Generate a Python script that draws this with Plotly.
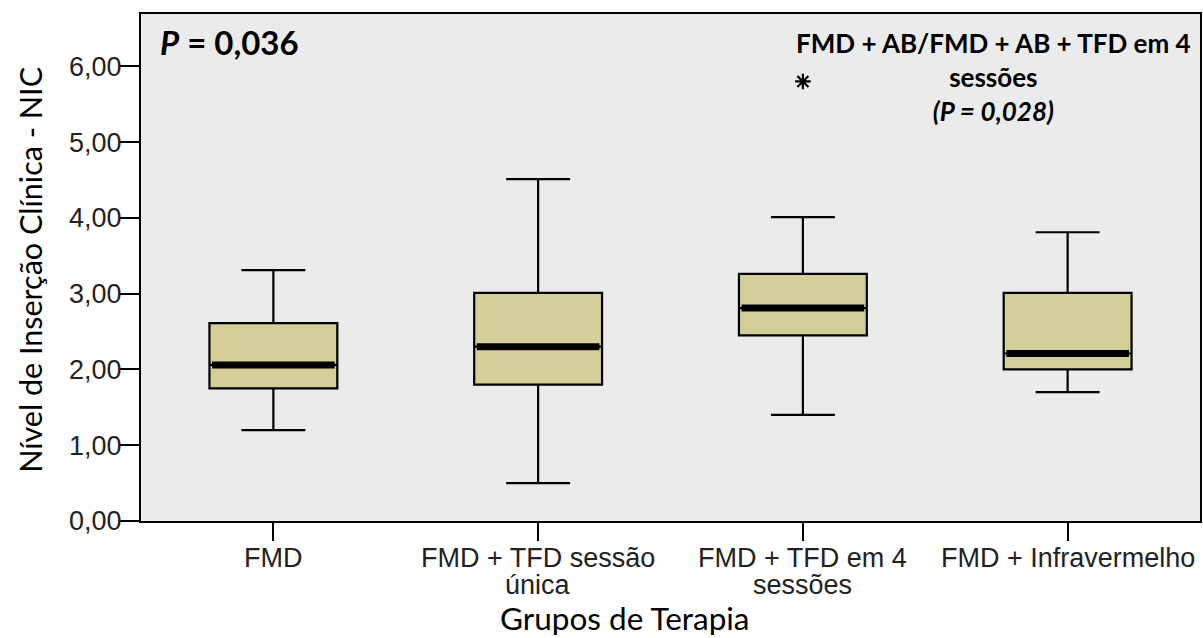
import plotly.graph_objects as go

categories = ["FMD", "FMD + TFD sessão<br>única", "FMD + TFD em 4<br>sessões", "FMD + Infravermelho"]
q1 = [1.75, 1.80, 2.45, 2.00]
median = [2.06, 2.30, 2.81, 2.21]
q3 = [2.61, 3.01, 3.26, 3.01]
lower_whisker = [1.20, 0.50, 1.40, 1.70]
upper_whisker = [3.31, 4.51, 4.01, 3.81]
outlier_group = [2]
outlier_value = [5.80]
y_ticks = [0, 1, 2, 3, 4, 5, 6]

BOX_W = 0.483
FILL = "#D4CF98"
BG = "#EBEBEB"
TICK_FONT = dict(family="Liberation Sans, Arial", size=27, color="#222222")
TITLE_FONT = "Lato, Open Sans, sans-serif"

pos = list(range(len(categories)))

fig = go.Figure()
fig.add_trace(go.Box(
    x=pos, q1=q1, median=median, q3=q3,
    lowerfence=lower_whisker, upperfence=upper_whisker,
    width=BOX_W, whiskerwidth=0.5,
    fillcolor=FILL, line=dict(color="black", width=2.2),
    boxpoints=False, showlegend=False, hoverinfo="skip",
))
for i, m in zip(pos, median):
    fig.add_trace(go.Scatter(
        x=[i - BOX_W / 2 + 0.01, i + BOX_W / 2 - 0.01], y=[m, m],
        mode="lines", line=dict(color="black", width=7),
        showlegend=False, hoverinfo="skip",
    ))
fig.add_trace(go.Scatter(
    x=outlier_group, y=outlier_value, mode="markers",
    marker=dict(symbol="asterisk-open", size=13, color="black",
                line=dict(color="black", width=2.2)),
    showlegend=False, hoverinfo="skip",
))

# category tick labels (two lines with tight spacing)
annotations = []
for i, cat in zip(pos, categories):
    lines = cat.split("<br>")
    for k, line in enumerate(lines):
        annotations.append(dict(
            text=line, xref="x", yref="paper", x=i, y=-0.073 - 0.053 * k,
            xanchor="center", yanchor="middle", showarrow=False,
            font=TICK_FONT))

annotations += [
    dict(text="Nível de Inserção Clínica - NIC", textangle=-90,
         xref="paper", yref="paper", x=-0.105, y=0.495,
         xanchor="center", yanchor="middle", showarrow=False,
         font=dict(family=TITLE_FONT, size=30.5, color="black")),
    dict(text="Grupos de Terapia",
         xref="paper", yref="paper", x=0.457, y=-0.192,
         xanchor="center", yanchor="middle", showarrow=False,
         font=dict(family=TITLE_FONT, size=31.5, color="black")),
    dict(text="<b><i>P</i> = 0,036</b>",
         xref="paper", yref="paper", x=0.016, y=0.988,
         xanchor="left", yanchor="top", showarrow=False,
         font=dict(family=TITLE_FONT, size=33, color="black")),
    dict(text="<b>FMD + AB/FMD + AB + TFD em 4<br>sessões<br><i>(P = 0,028)</i></b>",
         xref="paper", yref="paper", x=0.805, y=0.978,
         xanchor="center", yanchor="top", align="center", showarrow=False,
         font=dict(family=TITLE_FONT, size=26, color="black")),
]

fig.update_layout(
    width=1203, height=638,
    margin=dict(l=141, r=3, t=14, b=117),
    paper_bgcolor="white", plot_bgcolor=BG,
    separators=",.",
    xaxis=dict(
        range=[-0.5, 3.5], tickvals=pos, showticklabels=False,
        showline=True, mirror=True, linecolor="black", linewidth=2,
        ticks="outside", ticklen=18, tickwidth=2, tickcolor="black",
        showgrid=False, zeroline=False, automargin=False,
    ),
    yaxis=dict(
        range=[0, 6.69], tickvals=y_ticks, tickformat=".2f",
        showline=True, mirror=True, linecolor="black", linewidth=2,
        ticks="outside", ticklen=20, tickwidth=2, tickcolor="black",
        showgrid=False, zeroline=False, tickfont=TICK_FONT, automargin=False,
        ticklabelstandoff=-8,
    ),
    annotations=annotations,
)

fig.write_html("out.html", config={"displayModeBar": False},
               post_script="document.body.style.margin='0px';")
